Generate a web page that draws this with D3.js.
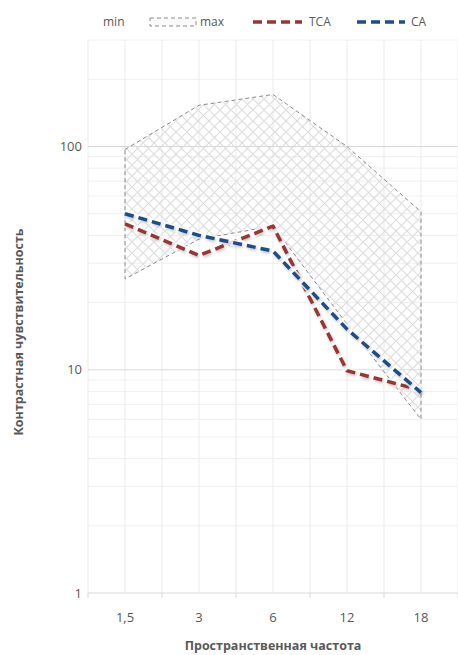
<!DOCTYPE html>
<html><head><meta charset="utf-8">
<script src="https://cdn.jsdelivr.net/npm/d3@7"></script>
<style>body{margin:0;background:#fff}svg{display:block}</style>
</head><body>
<script>
const categories = ["1,5", "3", "6", "12", "18"];
const minValues = [25.5, 38.5, 44, 16, 6];
const maxValues = [97, 153, 171, 100, 51];
const tcaValues = [45, 32.5, 44, 9.9, 8.1];
const caValues = [50, 40, 34, 15.2, 7.9];
const yTickLabels = [1, 10, 100];

const W = 458, H = 655;
const m = {left: 88, right: 458, top: 40, bottom: 593};
const svg = d3.select("body").append("svg").attr("width", W).attr("height", H);
const defs = svg.append("defs");
const pat = defs.append("pattern").attr("id", "hatch").attr("patternUnits", "userSpaceOnUse")
  .attr("width", 11).attr("height", 11);
pat.append("path").attr("d", "M0,0L11,11M11,0L0,11").attr("stroke", "#dedede").attr("stroke-width", 1.2);
const f = defs.append("filter").attr("id", "glow").attr("x", "-10%").attr("y", "-10%").attr("width", "120%").attr("height", "120%");
f.append("feDropShadow").attr("dx", 1).attr("dy", 1.5).attr("stdDeviation", 1.4).attr("flood-color", "#000").attr("flood-opacity", 0.28);

const x = d3.scalePoint().domain(categories).range([m.left, m.right]).padding(0.5);
const band = (m.right - m.left) / categories.length;
const y = d3.scaleLog().domain([1, 300]).range([m.bottom, m.top]);

// gridlines
const g = svg.append("g");
const minor = [];
for (let d = 1; d <= 100; d *= 10) for (let k = 2; k <= 9; k++) if (d * k <= 300) minor.push(d * k);
g.selectAll(".mi").data(minor).join("line")
  .attr("x1", m.left).attr("x2", m.right).attr("y1", d => y(d)).attr("y2", d => y(d))
  .attr("stroke", "#efefef").attr("stroke-width", 1);
const vpos = [];
categories.forEach((c, i) => { vpos.push(m.left + band * i); vpos.push(x(c)); });
vpos.push(m.right);
g.selectAll(".vg").data(vpos).join("line")
  .attr("x1", d => d).attr("x2", d => d).attr("y1", m.top).attr("y2", m.bottom)
  .attr("stroke", "#ebebeb").attr("stroke-width", 1);
g.selectAll(".ma").data([10, 100]).join("line")
  .attr("x1", m.left).attr("x2", m.right).attr("y1", d => y(d)).attr("y2", d => y(d))
  .attr("stroke", "#d9d9d9").attr("stroke-width", 1);

// range area
const pts = categories.map((c, i) => [x(c), y(maxValues[i])])
  .concat(categories.map((c, i) => [x(c), y(minValues[i])]).reverse());
svg.append("path").attr("d", d3.line()(pts) + "Z")
  .attr("fill", "url(#hatch)").attr("stroke", "#8c8c8c").attr("stroke-width", 1)
  .attr("stroke-dasharray", "4,3");

// axes
const xAxis = svg.append("g");
xAxis.append("line").attr("x1", m.left).attr("x2", m.right).attr("y1", m.bottom).attr("y2", m.bottom)
  .attr("stroke", "#d9d9d9");
xAxis.selectAll(".tk").data(d3.range(categories.length + 1)).join("line")
  .attr("x1", i => m.left + band * i).attr("x2", i => m.left + band * i)
  .attr("y1", m.bottom).attr("y2", m.bottom + 5).attr("stroke", "#d9d9d9");
xAxis.selectAll("text").data(categories).join("text")
  .attr("x", d => x(d)).attr("y", 622).attr("text-anchor", "middle")
  .attr("font-family", "Open Sans, sans-serif").attr("font-size", 13).attr("fill", "#595959").text(d => d);
svg.append("g").selectAll("text").data(yTickLabels).join("text")
  .attr("x", 82).attr("y", d => y(d) + 4.5).attr("text-anchor", "end")
  .attr("font-family", "Open Sans, sans-serif").attr("font-size", 13).attr("fill", "#595959").text(d => d);

// series lines
const line = d3.line().x((d, i) => x(categories[i])).y(d => y(d));
function drawSeries(vals, color) {
  svg.append("path").attr("d", line(vals)).attr("fill", "none")
    .attr("stroke", "#ffffff").attr("stroke-opacity", 0.85).attr("stroke-width", 7).attr("stroke-linejoin", "round");
  svg.append("path").attr("d", line(vals)).attr("fill", "none")
    .attr("stroke", color).attr("stroke-width", 3.5).attr("stroke-dasharray", "9,5")
    .attr("stroke-linejoin", "round").attr("filter", "url(#glow)");
}
drawSeries(tcaValues, "#953735");
drawSeries(caValues, "#1f4e84");

// titles
svg.append("text").attr("x", (m.left + m.right) / 2).attr("y", 650).attr("text-anchor", "middle")
  .attr("font-family", "Open Sans, sans-serif").attr("font-weight", "bold").attr("font-size", 12.5)
  .attr("fill", "#595959").text("Пространственная частота");
svg.append("text").attr("transform", "translate(23,332) rotate(-90)").attr("text-anchor", "middle")
  .attr("font-family", "Open Sans, sans-serif").attr("font-weight", "bold").attr("font-size", 12.5)
  .attr("fill", "#595959").text("Контрастная чувствительность");

// legend
const lg = svg.append("g").attr("font-family", "Open Sans, sans-serif").attr("font-size", 12).attr("fill", "#595959");
lg.append("text").attr("x", 103).attr("y", 26).text("min");
lg.append("rect").attr("x", 150).attr("y", 18).attr("width", 46).attr("height", 8)
  .attr("fill", "#fafafa").attr("stroke", "#8c8c8c").attr("stroke-dasharray", "4,3");
lg.append("text").attr("x", 200).attr("y", 26).text("max");
lg.append("line").attr("x1", 253).attr("x2", 302).attr("y1", 22).attr("y2", 22)
  .attr("stroke", "#953735").attr("stroke-width", 3.5).attr("stroke-dasharray", "9,5");
lg.append("text").attr("x", 309).attr("y", 26).text("TCA");
lg.append("line").attr("x1", 357).attr("x2", 405).attr("y1", 22).attr("y2", 22)
  .attr("stroke", "#1f4e84").attr("stroke-width", 3.5).attr("stroke-dasharray", "9,5");
lg.append("text").attr("x", 411).attr("y", 26).text("CA");
</script>
</body></html>
